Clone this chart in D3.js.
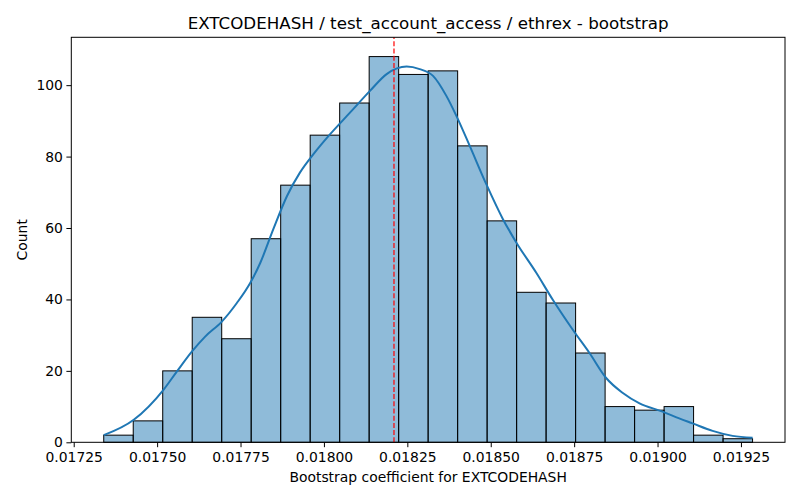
<!DOCTYPE html>
<html>
<head>
<meta charset="utf-8">
<script src="https://cdn.jsdelivr.net/npm/d3@7"></script>
<style>
  body { margin: 0; background: #fff; }
  text { font-family: "DejaVu Sans", sans-serif; }
</style>
</head>
<body>
<script>
// histogram bins (start of first bin, bin width, counts)
var binStart = 0.017340,
    binWidth = 0.0000884;
var counts = [2, 6, 20, 35, 29, 57, 72, 86, 95, 108, 103, 104, 83, 62, 42, 39, 25, 10, 9, 10, 2, 1];

// kde curve (x value, count scale)
var kdeX = [0.017340, 0.017430, 0.017519, 0.017559, 0.017604, 0.017644, 0.017694, 0.017739,
            0.017779, 0.017809, 0.017848, 0.017889, 0.017928, 0.017968, 0.018018, 0.018078,
            0.018138, 0.018188, 0.018248, 0.018287, 0.018327, 0.018367, 0.018397, 0.018437,
            0.018487, 0.018537, 0.018577, 0.018637, 0.018686, 0.018746, 0.018796, 0.018846,
            0.018896, 0.018946, 0.019015, 0.019065, 0.019105, 0.019165, 0.019225, 0.019285];
var kdeY = [2.0, 6.3, 14.7, 19.8, 25.4, 29.6, 33.8, 39.0,
            44.6, 50.2, 59.6, 68.9, 75.5, 80.6, 86.2, 92.3,
            98.4, 103.1, 105.2, 104.5, 102.6, 97.0, 91.4, 83.0,
            72.2, 62.4, 55.9, 47.4, 39.9, 31.5, 25.0, 18.0,
            13.8, 10.9, 8.6, 6.7, 5.3, 3.2, 1.8, 1.3];

var meanValue = 0.018210;

var xTicks = [0.01725, 0.01750, 0.01775, 0.01800, 0.01825, 0.01850, 0.01875, 0.01900, 0.01925];
var yTicks = [0, 20, 40, 60, 80, 100];

var title = "EXTCODEHASH / test_account_access / ethrex - bootstrap",
    xLabel = "Bootstrap coefficient for EXTCODEHASH",
    yLabel = "Count";

var width = 800, height = 500;
var margin = {left: 71.3, right: 15, top: 37.3, bottom: 57.7};

var svg = d3.select('body').append('svg')
    .attr('width', width)
    .attr('height', height);

var binEnd = binStart + binWidth * counts.length;
var pad = (binEnd - binStart) * 0.05;

var x = d3.scaleLinear()
    .domain([binStart - pad, binEnd + pad])
    .range([margin.left, width - margin.right]);

var y = d3.scaleLinear()
    .domain([0, d3.max(counts) * 1.05])
    .range([height - margin.bottom, margin.top]);

// bars
svg.append('g').selectAll('rect')
    .data(counts)
    .enter()
    .append('rect')
    .attr('x', function(d, i) { return x(binStart + i * binWidth); })
    .attr('width', function(d, i) { return x(binStart + (i + 1) * binWidth) - x(binStart + i * binWidth); })
    .attr('y', function(d) { return y(d); })
    .attr('height', function(d) { return y(0) - y(d); })
    .attr('fill', 'rgba(31,119,180,0.5)')
    .attr('stroke', '#000')
    .attr('stroke-width', 1);

// kde line
var line = d3.line()
    .x(function(d, i) { return x(kdeX[i]); })
    .y(function(d) { return y(d); })
    .curve(d3.curveMonotoneX);

svg.append('path')
    .datum(kdeY)
    .attr('d', line)
    .attr('fill', 'none')
    .attr('stroke', '#1f77b4')
    .attr('stroke-width', 2);

// mean line
svg.append('line')
    .attr('x1', x(meanValue)).attr('x2', x(meanValue))
    .attr('y1', y.range()[0]).attr('y2', y.range()[1])
    .attr('stroke', 'red')
    .attr('stroke-width', 1.2)
    .attr('stroke-dasharray', '5,2.2');

// axes
svg.append('g')
    .attr('transform', 'translate(0,' + (height - margin.bottom) + ')')
    .call(d3.axisBottom(x).tickValues(xTicks).tickFormat(d3.format('.5f')).tickSizeOuter(0).tickSize(4.9).tickPadding(4.8));

svg.append('g')
    .attr('transform', 'translate(' + margin.left + ',0)')
    .call(d3.axisLeft(y).tickValues(yTicks).tickSizeOuter(0).tickSize(4.9).tickPadding(3.5));

svg.selectAll('.tick text')
    .attr('font-size', '13.9px')
    .attr('font-family', 'DejaVu Sans')
    .attr('fill', '#000');
svg.selectAll('.domain').remove();
svg.selectAll('.tick line').attr('stroke', '#000').attr('stroke-width', 1);

// frame
svg.append('rect')
    .attr('x', margin.left)
    .attr('y', margin.top)
    .attr('width', width - margin.right - margin.left)
    .attr('height', height - margin.bottom - margin.top)
    .attr('fill', 'none')
    .attr('stroke', '#000')
    .attr('stroke-width', 1);

// labels
svg.append('text')
    .attr('x', (margin.left + width - margin.right) / 2)
    .attr('y', 29)
    .attr('text-anchor', 'middle')
    .attr('font-size', '16.7px')
    .text(title);

svg.append('text')
    .attr('x', (margin.left + width - margin.right) / 2)
    .attr('y', 482)
    .attr('text-anchor', 'middle')
    .attr('font-size', '13.9px')
    .text(xLabel);

svg.append('text')
    .attr('transform', 'translate(27,' + ((margin.top + height - margin.bottom) / 2) + ') rotate(-90)')
    .attr('text-anchor', 'middle')
    .attr('font-size', '13.9px')
    .text(yLabel);
</script>
</body>
</html>
